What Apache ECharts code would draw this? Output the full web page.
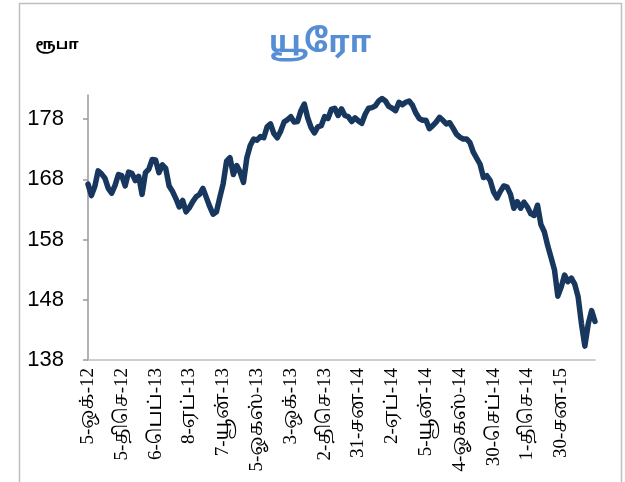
<!DOCTYPE html>
<html>
<head>
<meta charset="utf-8">
<script src="https://cdn.jsdelivr.net/npm/echarts@6/dist/echarts.min.js"></script>
<style>
  html, body { margin: 0; padding: 0; background: #fff; }
  #main { width: 625px; height: 482px; }
</style>
</head>
<body>
<div id="main"></div>
<script>
// tick labels shown every 10 points on the category axis
var tickLabels = ['5-ஒக்-12', '5-திசெ-12', '6-பெப்-13', '8-ஏப்-13', '7-யூன்-13',
    '5-ஓகஸ்-13', '3-ஒக்-13', '2-திசெ-13', '31-சன-14', '2-ஏப்-14',
    '5-யூன்-14', '4-ஓகஸ்-14', '30-செப்-14', '1-திசெ-14', '30-சன-15'];
var perLabel = 10;

// rupees per euro
var euroRate = [
    167.2, 165.3, 166.8, 169.4, 168.9, 168.2, 166.5, 165.7, 167.0, 168.8,
    168.6, 166.9, 169.2, 169.0, 167.8, 168.5, 165.5, 169.1, 169.7, 171.3,
    171.2, 169.1, 170.4, 169.8, 166.9, 166.0, 164.8, 163.4, 164.5, 162.6,
    163.3, 164.3, 165.1, 165.5, 166.5, 165.0, 163.5, 162.2, 162.6, 165.0,
    167.3, 171.0, 171.6, 168.8, 170.3, 169.2, 167.5, 171.6, 173.6, 174.7,
    174.5, 175.1, 174.9, 176.7, 177.2, 175.6, 174.9, 176.0, 177.5, 177.9,
    178.4, 177.5, 177.6, 179.4, 180.5, 178.2, 176.6, 175.7, 176.7, 176.9,
    178.4, 178.1, 179.6, 179.8, 178.6, 179.7, 178.6, 178.4, 177.6, 178.2,
    177.7, 177.3, 178.8, 179.8, 179.9, 180.2, 181.0, 181.4, 181.0, 180.1,
    179.8, 179.4, 180.8, 180.4, 180.8, 181.0, 180.3, 179.0, 178.1, 177.8,
    177.8, 176.4, 176.9, 177.5, 178.3, 177.8, 177.2, 177.4, 176.5, 175.5,
    175.0, 174.7, 174.7, 174.1, 172.5, 171.5, 170.5, 168.3, 168.6, 167.8,
    165.9, 164.9, 166.0, 166.9, 166.7, 165.5, 163.2, 164.3, 163.2, 164.2,
    163.4, 162.3, 162.0, 163.7, 160.5, 159.3, 157.0, 155.0, 153.0, 148.6,
    150.1, 152.1, 151.0, 151.6, 150.6, 148.5, 144.0, 140.3, 144.0, 146.2, 144.4
];

var dates = euroRate.map(function (v, i) {
    return (i % perLabel === 0 && tickLabels[i / perLabel]) ? tickLabels[i / perLabel] : '';
});

var chart = echarts.init(document.getElementById('main'));
var option = {
    backgroundColor: '#fff',
    animation: false,
    graphic: [
        {
            type: 'rect',
            shape: {x: 19.5, y: 3.5, width: 602, height: 500},
            style: {fill: 'none', stroke: '#BFBFBF', lineWidth: 1.5},
            silent: true
        },
        {
            type: 'text',
            x: 320, y: 46,
            style: {
                text: 'யூரோ',
                textAlign: 'center',
                textVerticalAlign: 'middle',
                fill: '#558ED5',
                font: 'bold 31px "Noto Sans Tamil", "Noto Sans", sans-serif'
            }
        },
        {
            type: 'text',
            x: 57, y: 46,
            style: {
                text: 'ரூபா',
                textAlign: 'center',
                textVerticalAlign: 'middle',
                fill: '#000',
                font: 'bold 15px "Noto Sans Tamil", "Noto Sans", sans-serif'
            }
        }
    ],
    grid: {
        left: 88,
        top: 95,
        width: 507,
        bottom: 122
    },
    xAxis: {
        type: 'category',
        data: dates,
        boundaryGap: false,
        axisLine: {lineStyle: {color: '#BFBFBF', width: 1.5}},
        axisTick: {show: false},
        axisLabel: {
            interval: 0,
            rotate: 90,
            margin: 8,
            color: '#000',
            fontSize: 19,
            fontFamily: '"Liberation Serif", "Noto Serif Tamil", "Noto Sans Tamil", serif'
        },
        splitLine: {show: false}
    },
    yAxis: {
        type: 'value',
        min: 138,
        max: 182,
        interval: 10,
        axisLine: {show: true, lineStyle: {color: '#999', width: 1.5}},
        axisTick: {show: true, length: 5, lineStyle: {color: '#999', width: 1.5}},
        axisLabel: {
            showMaxLabel: false,
            margin: 24,
            color: '#000',
            fontSize: 22,
            fontFamily: '"Liberation Sans", Arial, sans-serif'
        },
        splitLine: {show: false}
    },
    series: [
        {
            type: 'line',
            data: euroRate,
            symbol: 'none',
            smooth: false,
            lineStyle: {
                color: '#17375E',
                width: 5.5,
                join: 'round',
                cap: 'round'
            }
        }
    ]
};
chart.setOption(option);
</script>
</body>
</html>
